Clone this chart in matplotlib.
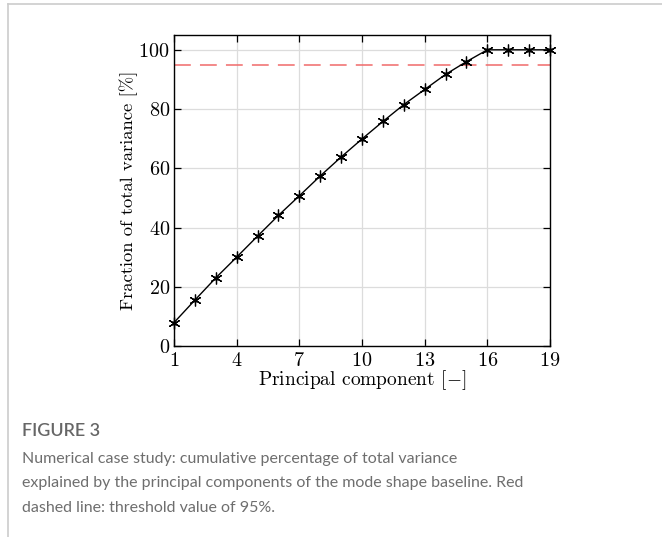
import matplotlib
matplotlib.use("Agg")
import matplotlib.pyplot as plt
from matplotlib.lines import Line2D

# cumulative explained variance per principal component
components = list(range(1, 20))
cum_variance = [7.9, 15.5, 23.0, 30.0, 37.1, 44.1, 50.7, 57.4, 63.8, 69.9,
                75.8, 81.5, 86.6, 91.7, 96.0, 100.0, 100.0, 100.0, 100.0]
threshold = 95
x_ticks = [1, 4, 7, 10, 13, 16, 19]
y_ticks = [0, 20, 40, 60, 80, 100]

plt.rcParams['font.family'] = 'cmr10'
plt.rcParams['mathtext.fontset'] = 'cm'
plt.rcParams['axes.formatter.use_mathtext'] = True
plt.rcParams['axes.unicode_minus'] = False

fig = plt.figure(figsize=(6.62, 5.37), dpi=100)
ax = fig.add_axes([174 / 662, 1 - 346 / 537, 376 / 662, 311 / 537])

ax.grid(True, color='#dcdcdc', linewidth=0.9)
ax.set_axisbelow(True)
ax.axhline(threshold, color='#f06a6a', linestyle=(0, (11, 6)), linewidth=1.1)
ax.plot(components, cum_variance, color='black', linewidth=1.0,
        marker=(6, 2, 0), markersize=8.5, markeredgewidth=0.9, clip_on=False)
ax.plot(components, cum_variance, linestyle='none', color='black',
        marker='o', markersize=2.2, clip_on=False)

ax.set_xlim(1, 19)
ax.set_ylim(0, 105)
ax.set_xticks(x_ticks)
ax.set_yticks(y_ticks)
ax.tick_params(direction='in', top=True, right=True, length=5, width=0.9,
               labelsize=14.5, pad=3)
ax.tick_params(axis='x', pad=4)
for s in ax.spines.values():
    s.set_linewidth(1.0)
ax.set_xlabel(r'Principal component $[-]$', fontsize=14, labelpad=-1)
ax.set_ylabel(r'Fraction of total variance [%]', fontsize=13.4, labelpad=0)

# frame of the figure panel
fig.add_artist(Line2D([8 / 662, 8 / 662], [0, 1 - 4 / 537], color='#cccccc',
                      linewidth=1.2, transform=fig.transFigure))
fig.add_artist(Line2D([8 / 662, 1], [1 - 4 / 537, 1 - 4 / 537], color='#cccccc',
                      linewidth=1.2, transform=fig.transFigure))

cap_font = ['Lato', 'DejaVu Sans']
fig.text(22 / 662, 1 - 431 / 537, 'FIGURE 3', fontsize=13, fontweight='semibold',
         color='#666666', family=cap_font, va='center')
caption = ["Numerical case study: cumulative percentage of total variance",
           "explained by the principal components of the mode shape baseline. Red",
           "dashed line: threshold value of 95%."]
for i, line in enumerate(caption):
    fig.text(22 / 662, 1 - (459 + 24.5 * i) / 537, line, fontsize=11.5,
             color='#6e6e6e', family=cap_font, va='center')

fig.savefig('out.png', dpi=100)
